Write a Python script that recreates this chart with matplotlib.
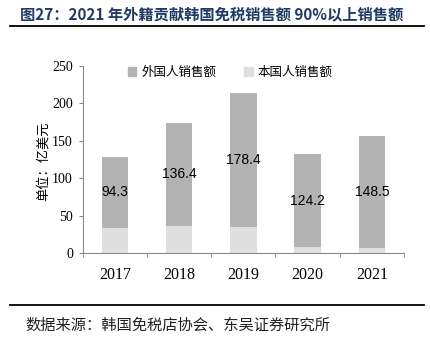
import numpy as np
import matplotlib
matplotlib.use("Agg")
from matplotlib import pyplot as plt
from matplotlib.patches import Patch
from matplotlib.lines import Line2D

plt.rcParams['font.family'] = ['Noto Sans CJK SC', 'DejaVu Sans']

years = ["2017", "2018", "2019", "2020", "2021"]
foreign = [94.3, 136.4, 178.4, 124.2, 148.5]
domestic = [34.1, 36.9, 35.3, 7.8, 7.5]

c_foreign = "#b3b3b3"
c_domestic = "#dfdfdf"
axis_grey = "#888888"

fig = plt.figure(figsize=(4.3, 3.37), dpi=100)
ax = fig.add_axes([0.1923, 0.2484, 0.7472, 0.5566])

x = np.arange(len(years))
ax.bar(x, domestic, width=0.41, color=c_domestic)
ax.bar(x, foreign, width=0.41, bottom=domestic, color=c_foreign)

for xi, f, d in zip(x, foreign, domestic):
    ax.text(xi, d + f / 2, f"{f:.1f}", ha="center", va="center",
            fontsize=10, family="Liberation Sans", color="black")

ax.set_xlim(-0.5, len(years) - 0.5)
ax.set_ylim(0, 250)
ax.set_yticks(range(0, 251, 50))
ax.set_yticklabels([str(v) for v in range(0, 251, 50)],
                   family="Liberation Serif", fontsize=10)
# category labels centred, tick marks on the boundaries
ax.set_xticks(x)
ax.set_xticklabels(years, family="Liberation Serif", fontsize=11.5)
ax.tick_params(axis="x", which="major", length=0, pad=10)
ax.set_xticks(np.arange(len(years) + 1) - 0.5, minor=True)
ax.tick_params(axis="x", which="minor", length=3, direction="out", color=axis_grey)
ax.tick_params(axis="y", length=3, direction="out", color=axis_grey, pad=4)

for s in ["top", "right"]:
    ax.spines[s].set_visible(False)
for s in ["left", "bottom"]:
    ax.spines[s].set_color(axis_grey)
    ax.spines[s].set_linewidth(0.8)

fig.text(0.1, 0.522, "单位：亿美元", rotation=90, ha="center", va="center",
         fontsize=9.5)

handles = [Patch(color=c_foreign), Patch(color=c_domestic)]
fig.legend(handles, ["外国人销售额", "本国人销售额"], loc="center",
           bbox_to_anchor=(0.535, 0.786), ncol=2, frameon=False, fontsize=9,
           handlelength=0.7, handleheight=0.7, handletextpad=0.4,
           columnspacing=2.2)

fig.text(0.047, 0.958, "图27：2021 年外籍贡献韩国免税销售额 90%以上销售额",
         ha="left", va="center", fontsize=11, fontweight="bold",
         color="#1f3a64")
fig.add_artist(Line2D([0.023, 0.986], [0.922, 0.922], color="black", lw=1.3))
fig.add_artist(Line2D([0.023, 0.986], [0.095, 0.095], color="black", lw=1.3))
fig.text(0.058, 0.035, "数据来源：韩国免税店协会、东吴证券研究所",
         ha="left", va="center", fontsize=11, color="#222222")

fig.savefig("out.png", dpi=100)
